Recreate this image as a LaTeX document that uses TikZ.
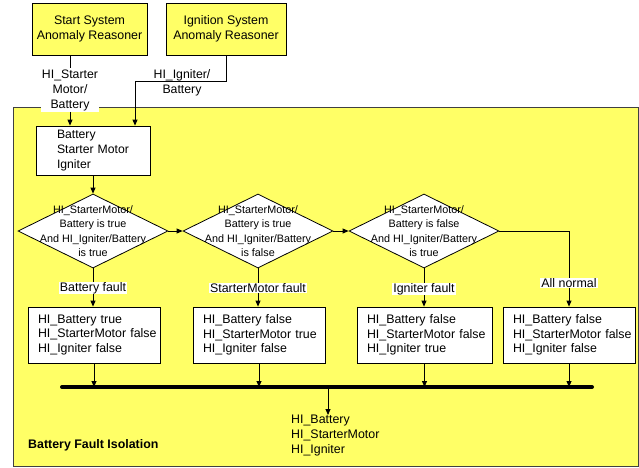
\documentclass[tikz,border=0pt]{standalone}
\usepackage{fontspec}
\setmainfont{Liberation Sans}
\usetikzlibrary{shapes.geometric,arrows.meta,calc}
\definecolor{fy}{RGB}{255,255,102}
\begin{document}
\begin{tikzpicture}[x=1pt,y=-1pt,
  font=\fontsize{12.4}{14.5}\selectfont,
  conn/.style={draw=black, line width=0.8pt},
  arr/.style={conn, -{Triangle[length=6pt,width=5pt]}},
  topbox/.style={draw=black, line width=0.8pt, fill=fy, align=center, minimum height=52pt, inner sep=0pt},
  dia/.style={draw=black, line width=0.8pt, fill=white, diamond, inner sep=0pt, minimum width=150pt, minimum height=74pt},
  diatext/.style={align=center, inner sep=0pt, font=\fontsize{10.8}{14.3}\selectfont},
  resbox/.style={draw=black, line width=0.8pt, fill=white, align=left, inner xsep=10pt, inner ysep=0pt, minimum height=56pt},
  lbl/.style={fill=white, inner xsep=1pt, inner ysep=0.5pt, align=center},
]
\useasboundingbox (0,0) rectangle (639,467);
% frame
\node[draw=black!75, line width=1pt, fill=fy, minimum width=625pt, minimum height=359pt, inner sep=0pt, anchor=north west] (frame) at (12.5,107) {};
% top boxes
\node[topbox, minimum width=115pt] (sbox) at (89.5,29) {Start System\\Anomaly Reasoner};
\node[topbox, minimum width=120pt] (ibox) at (226,29) {Ignition System\\Anomaly Reasoner};
% initial box
\node[draw=black, line width=0.8pt, fill=white, align=left, text width=72pt, inner xsep=21pt, inner ysep=0pt, minimum height=49pt, font=\fontsize{12.2}{15}\selectfont] (init) at (93,150.5) {\mbox{Battery}\\\mbox{Starter Motor}\\\mbox{Igniter}};
% inputs
\node[lbl, inner ysep=1pt, font=\fontsize{12.3}{15}\selectfont] (l1) at (70,90) {HI\_Starter\\Motor/\\Battery};
\draw[conn] (sbox.south -| l1) -- (l1.north);
\draw[arr] (l1.south) -- (init.north -| l1);
\coordinate (ibend) at (135,81);
\draw[arr] (ibox.south) |- (ibend) -- (ibend |- init.north);
\node[align=center, inner sep=0pt, font=\fontsize{12.3}{15}\selectfont] (l2) at (182,82.5) {HI\_Igniter/\\Battery};
% diamonds
\node[dia] (d1) at (93,231) {};
\node[dia] (d2) at (258,231) {};
\node[dia] (d3) at (424,231) {};
\node[diatext] (t1) at (93,231) {HI\_StarterMotor/\\Battery is true\\And HI\_Igniter/Battery\\is true};
\node[diatext] (t2) at (258,231) {HI\_StarterMotor/\\Battery is true\\And HI\_Igniter/Battery\\is false};
\node[diatext] (t3) at (424,231) {HI\_StarterMotor/\\Battery is false\\And HI\_Igniter/Battery\\is true};
\draw[arr] (init.south) -- (d1.north);
\draw[arr] (d1.east) -- (d2.west);
\draw[arr] (d2.east) -- (d3.west);
% result boxes
\node[resbox, text width=112pt] (r1) at (94,335) {\mbox{HI\_Battery true}\\\mbox{HI\_StarterMotor false}\\\mbox{HI\_Igniter false}};
\node[resbox, text width=112pt] (r2) at (259,335) {\mbox{HI\_Battery false}\\\mbox{HI\_StarterMotor true}\\\mbox{HI\_Igniter false}};
\node[resbox, text width=115pt] (r3) at (424.5,335) {\mbox{HI\_Battery false}\\\mbox{HI\_StarterMotor false}\\\mbox{HI\_Igniter true}};
\node[resbox, text width=112pt] (r4) at (569,335) {\mbox{HI\_Battery false}\\\mbox{HI\_StarterMotor false}\\\mbox{HI\_Igniter false}};
\coordinate (c4) at (569,231);
\draw[arr] (d1.south) -- (r1.north -| d1);
\draw[arr] (d2.south) -- (r2.north -| d2);
\draw[arr] (d3.south) -- (r3.north -| d3);
\draw[arr] (d3.east) -- (c4) -- (r4.north);
\node[lbl] (f1) at (93,288) {Battery fault};
\node[lbl] (f2) at (258,288) {StarterMotor fault};
\node[lbl] (f3) at (424,289) {Igniter fault};
\node[lbl] (f4) at (569,283) {All normal};
% bus
\coordinate (busL) at (62,387);
\coordinate (busR) at (592,387);
\draw[line width=4pt, line cap=round] (busL) -- (busR);
\draw[arr] (r1.south) -- (r1.south |- busL);
\draw[arr] (r2.south) -- (r2.south |- busL);
\draw[arr] (r3.south) -- (r3.south |- busL);
\draw[arr] (r4.south) -- (r4.south |- busL);
\coordinate (bo) at (328,387);
\node[align=left, inner sep=0pt, anchor=north west, font=\fontsize{12.4}{15}\selectfont] (out) at (291,415) {HI\_Battery\\HI\_StarterMotor\\HI\_Igniter};
\draw[arr] (bo) -- (bo |- out.north);
\node[anchor=west, inner sep=0pt, font=\bfseries\fontsize{12.4}{14}\selectfont] (title) at (28,445) {Battery Fault Isolation};
\end{tikzpicture}
\end{document}
